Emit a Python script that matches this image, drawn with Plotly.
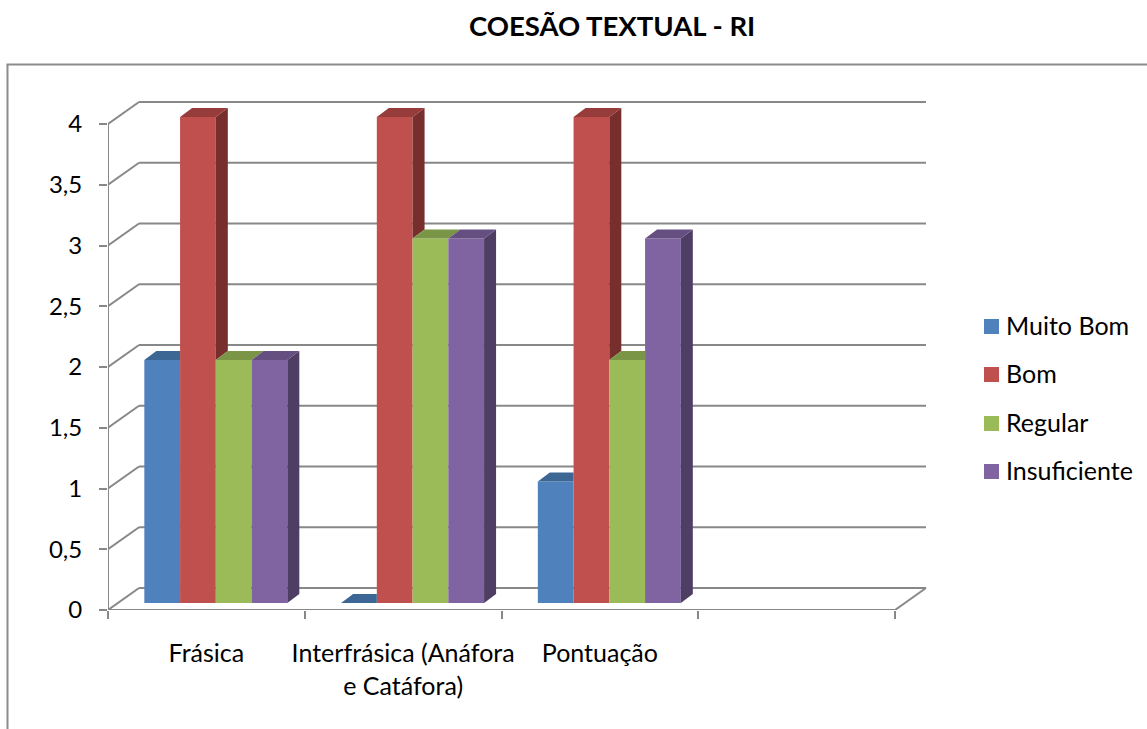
import plotly.graph_objects as go

categories = ["Frásica", "Interfrásica (Anáfora<br>e Catáfora)", "Pontuação"]
muito_bom = [2, 0, 1]
bom = [4, 4, 4]
regular = [2, 3, 2]
insuficiente = [2, 3, 3]
series_names = ["Muito Bom", "Bom", "Regular", "Insuficiente"]
y_ticks = [0, 0.5, 1, 1.5, 2, 2.5, 3, 3.5, 4]
y_labels = ["0", "0,5", "1", "1,5", "2", "2,5", "3", "3,5", "4"]
n_slots = 4

W, H = 1147, 729
PX, PY = 196.75, 121.5          # pixels per axis unit
LEFT, RIGHT, TOP, BOTTOM = 108, 935, 95, 610   # plot area in window pixels
FONT = "Lato"
GRID = "#888888"
TXT = "#000000"


def xp(px):
    return (px - LEFT) / (RIGHT - LEFT)


def yp(py):
    return (BOTTOM - py) / (BOTTOM - TOP)


front = ["#4F81BD", "#C0504D", "#9BBB59", "#8064A2"]
topc = ["#3C6795", "#963D3B", "#7A9546", "#654F80"]
side = ["#2F4E73", "#772F2D", "#5F7436", "#4F3E64"]

wall_dx, wall_dy = 31 / PX, 22 / PY      # depth of the back wall
bar_dx, bar_dy = 12 / PX, 9 / PY         # depth of a bar
lift = 7 / PY                            # bars stand slightly behind the front edge
bar_w = 143 / 4 / PX
center = 0.548

all_series = [muito_bom, bom, regular, insuficiente]
fig = go.Figure()

# Front faces
for i, (name, vals) in enumerate(zip(series_names, all_series)):
    fig.add_bar(
        x=[k + center for k in range(len(vals))], y=vals, base=lift,
        width=bar_w, offset=(i - 2) * bar_w, name=name,
        marker=dict(color=front[i], line_width=0), showlegend=False,
    )

# Depth faces, derived from the values
for i, vals in enumerate(all_series):
    sx, sy, tx, ty = [], [], [], []
    for k, v in enumerate(vals):
        left = k + center + (i - 2) * bar_w
        right = left + bar_w
        nxt = all_series[i + 1][k] if i < 3 else None
        top = v + lift
        # top face: cut where a taller neighbour hides it
        cut = right if (nxt is not None and nxt > v) else right + bar_dx
        tx += [left, left + bar_dx, cut, right, None]
        ty += [top, top + bar_dy, top + bar_dy, top, None]
        # side face: only the part above the neighbour shows
        if nxt is None or nxt < v:
            low = (nxt + lift) if nxt is not None else lift
            sx += [right, right + bar_dx, right + bar_dx, right, None]
            sy += [top, top + bar_dy, low + bar_dy, low, None]
    if sx:
        fig.add_scatter(x=sx, y=sy, mode="lines", fill="toself", fillcolor=side[i],
                        line=dict(width=0), showlegend=False, hoverinfo="skip", cliponaxis=False)
    fig.add_scatter(x=tx, y=ty, mode="lines", fill="toself", fillcolor=topc[i],
                    line=dict(width=0), showlegend=False, hoverinfo="skip", cliponaxis=False)

# Front axis lines
fig.add_scatter(x=[0, n_slots], y=[0, 0], mode="lines", line=dict(color=GRID, width=2),
                showlegend=False, hoverinfo="skip", cliponaxis=False)
fig.add_scatter(x=[0, 0], y=[0, y_ticks[-1]], mode="lines", line=dict(color=GRID, width=2),
                showlegend=False, hoverinfo="skip", cliponaxis=False)
fig.add_scatter(x=[n_slots, n_slots + wall_dx], y=[0, wall_dy], mode="lines",
                line=dict(color=GRID, width=2), showlegend=False, hoverinfo="skip", cliponaxis=False)

# Back wall lines
shapes = []
for t in y_ticks:
    shapes.append(dict(type="line", xref="x", yref="y", layer="below", x0=0, y0=t,
                       x1=wall_dx, y1=t + wall_dy, line=dict(color=GRID, width=2)))
    shapes.append(dict(type="line", xref="x", yref="y", layer="below", x0=wall_dx, y0=t + wall_dy,
                       x1=n_slots + wall_dx, y1=t + wall_dy, line=dict(color=GRID, width=2)))

# Chart frame
shapes.append(dict(type="line", xref="paper", yref="paper", x0=xp(7.5), x1=xp(7.5),
                   y0=yp(729), y1=yp(64.5), line=dict(color="#8C8C8C", width=2)))
shapes.append(dict(type="line", xref="paper", yref="paper", x0=xp(6.5), x1=xp(1147),
                   y0=yp(64.5), y1=yp(64.5), line=dict(color="#8C8C8C", width=2)))

# Legend
annotations = []
legend_y = [326.5, 374.5, 423.5, 471.5]
for i, name in enumerate(series_names):
    yc = legend_y[i]
    shapes.append(dict(type="rect", xref="paper", yref="paper", x0=xp(984), x1=xp(999),
                       y0=yp(yc - 7.5), y1=yp(yc + 7.5),
                       fillcolor=front[i], line_width=0))
    annotations.append(dict(xref="paper", yref="paper", x=xp(1004), y=yp(yc - 1.5), text=name,
                            showarrow=False, xanchor="left", yanchor="middle",
                            font=dict(family=FONT, size=25, color=TXT)))

# Title
annotations.append(dict(xref="paper", yref="paper", x=xp(612), y=yp(26),
                        text="<b>COESÃO TEXTUAL - RI</b>", showarrow=False,
                        xanchor="center", yanchor="middle",
                        font=dict(family=FONT, size=27.5, color=TXT)))

fig.update_layout(
    width=W, height=H,
    margin=dict(l=LEFT, r=W - RIGHT, t=TOP, b=H - BOTTOM, autoexpand=False),
    paper_bgcolor="white", plot_bgcolor="rgba(0,0,0,0)", barmode="overlay", showlegend=False,
    xaxis=dict(range=[0, (RIGHT - LEFT) / PX], tickmode="array",
               tickvals=[k + 0.5 for k in range(len(categories))], ticktext=categories,
               ticks="", showgrid=False, zeroline=False, showline=False, ticklabelstandoff=26,
               tickangle=0, tickfont=dict(family=FONT, size=25, color=TXT),
               minor=dict(tickmode="array", tickvals=list(range(n_slots + 1)), ticks="outside",
                          ticklen=8, tickwidth=2, tickcolor=GRID, showgrid=False)),
    yaxis=dict(range=[0, (BOTTOM - TOP) / PY], tickmode="array", tickvals=y_ticks, ticktext=y_labels,
               ticks="outside", ticklen=8, tickwidth=2, tickcolor=GRID, ticklabelstandoff=12,
               showgrid=False, zeroline=False, showline=False,
               tickfont=dict(family=FONT, size=24, color=TXT)),
    shapes=shapes, annotations=annotations,
)

fig.write_html("out.html", config={"displayModeBar": False},
               post_script="document.body.style.margin='0';document.body.style.overflow='hidden';")
